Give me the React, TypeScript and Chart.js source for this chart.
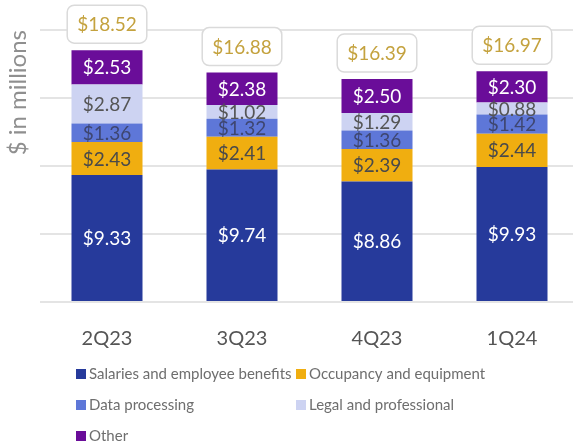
import React, { useEffect, useRef } from "react";
import { Chart, registerables } from "chart.js";

Chart.register(...registerables);

const categories = ["2Q23", "3Q23", "4Q23", "1Q24"];
const salaries = [9.33, 9.74, 8.86, 9.93];
const occupancy = [2.43, 2.41, 2.39, 2.44];
const dataProcessing = [1.36, 1.32, 1.36, 1.42];
const legal = [2.87, 1.02, 1.29, 0.88];
const other = [2.53, 2.38, 2.5, 2.3];
const totals = [18.52, 16.88, 16.39, 16.97];
const seriesNames = [
  "Salaries and employee benefits",
  "Occupancy and equipment",
  "Data processing",
  "Legal and professional",
  "Other",
];
const yMax = 20;
const yStep = 5;

const colors = ["#263A9B", "#F0AE10", "#5E77D8", "#CDD3F2", "#6A0D99"];
const labelColors = ["#FFFFFF", "#4A4A4A", "#3E4670", "#555555", "#FFFFFF"];
const FONT = "Lato, 'Open Sans', sans-serif";

const fmt = (v: number) => "$" + v.toFixed(2);

const labelsPlugin = {
  id: "segLabels",
  afterDatasetsDraw(chart: any) {
    const ctx = chart.ctx;
    ctx.save();
    ctx.textAlign = "center";
    ctx.textBaseline = "middle";
    ctx.font = `19px ${FONT}`;
    chart.data.datasets.forEach((ds: any, di: number) => {
      const meta = chart.getDatasetMeta(di);
      meta.data.forEach((bar: any, i: number) => {
        const y = (bar.y + bar.base) / 2;
        ctx.fillStyle = labelColors[di];
        ctx.fillText(fmt(ds.data[i]), bar.x, y + 1);
      });
    });
    // totals
    const last = chart.getDatasetMeta(chart.data.datasets.length - 1);
    last.data.forEach((bar: any, i: number) => {
      const txt = fmt(totals[i]);
      ctx.font = `19px ${FONT}`;
      const w = ctx.measureText(txt).width + 20;
      const h = 38;
      const bottom = bar.y - 7;
      const x = bar.x - w / 2;
      const y = bottom - h;
      ctx.beginPath();
      ctx.roundRect(x, y, w, h, 7);
      ctx.fillStyle = "#FFFFFF";
      ctx.fill();
      ctx.lineWidth = 1.5;
      ctx.strokeStyle = "#DADADA";
      ctx.stroke();
      ctx.fillStyle = "#C4A23E";
      ctx.fillText(txt, bar.x, y + h / 2 + 1);
    });
    ctx.restore();
  },
};

const legendPlugin = {
  id: "gridLegend",
  afterDraw(chart: any) {
    const ctx = chart.ctx;
    const colX = [76, 296];
    const rowY = [374, 405, 436];
    ctx.save();
    ctx.font = `15px ${FONT}`;
    ctx.textBaseline = "middle";
    ctx.textAlign = "left";
    chart.data.datasets.forEach((ds: any, i: number) => {
      const x = colX[i % 2];
      const y = rowY[Math.floor(i / 2)];
      ctx.fillStyle = ds.backgroundColor;
      ctx.fillRect(x, y - 5, 10, 10);
      ctx.fillStyle = "#6E6E6E";
      ctx.fillText(ds.label, x + 13, y);
    });
    ctx.restore();
  },
};

export default function App() {
  const ref = useRef<HTMLCanvasElement>(null);
  useEffect(() => {
    if (!ref.current) return;
    const series = [salaries, occupancy, dataProcessing, legal, other];
    const chart = new Chart(ref.current, {
      type: "bar",
      data: {
        labels: categories,
        datasets: series.map((d, i) => ({
          label: seriesNames[i],
          data: d,
          backgroundColor: colors[i],
          borderWidth: 0,
          barPercentage: 0.526,
          categoryPercentage: 1,
        })),
      },
      options: {
        animation: false,
        responsive: true,
        maintainAspectRatio: false,
        events: [],
        layout: { padding: { top: 30, right: 1.5, bottom: 0, left: 0 } },
        plugins: {
          legend: { display: false },
          tooltip: { enabled: false },
        },
        scales: {
          x: {
            stacked: true,
            grid: { display: false },
            border: { display: false },
            ticks: {
              font: { family: FONT, size: 20 },
              color: "#555555",
              padding: 17,
            },
            afterFit: (s: any) => {
              s.height = 143;
            },
          },
          y: {
            stacked: true,
            min: 0,
            max: yMax,
            ticks: { display: false, stepSize: yStep },
            grid: { color: "#E4E4E4", lineWidth: 2, drawTicks: false },
            border: { display: false },
            title: {
              display: true,
              text: "$ in millions",
              align: "end",
              color: "#8F8F8F",
              font: { family: FONT, size: 24 },
              padding: { top: 4, bottom: 0 },
            },
            afterFit: (s: any) => {
              s.width = 39.5;
            },
          },
        },
      },
      plugins: [labelsPlugin, legendPlugin],
    });
    return () => chart.destroy();
  }, []);
  return (
    <div
      style={{
        position: "fixed",
        left: 0,
        top: 0,
        width: 573,
        height: 445,
        overflow: "hidden",
        background: "#fff",
      }}
    >
      <div style={{ position: "relative", width: 581, height: 445 }}>
        <canvas ref={ref} />
      </div>
    </div>
  );
}
